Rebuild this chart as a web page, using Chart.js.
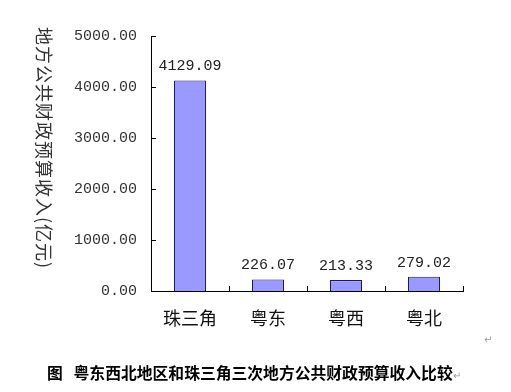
<!DOCTYPE html>
<html>
<head>
<meta charset="utf-8">
<script src="https://cdn.jsdelivr.net/npm/chart.js@4/dist/chart.umd.min.js"></script>
<style>
  html, body { margin: 0; padding: 0; background: #fff; }
  #wrap { position: relative; width: 511px; height: 392px; }
  #caption {
    position: absolute; left: 47px; top: 363px;
    font-family: "Noto Sans CJK SC", sans-serif; font-weight: 700;
    font-size: 15.8px; line-height: 20px; color: #000; white-space: nowrap;
  }
  .ret { font-weight: 400; font-size: 10px; color: #999; }
  #ret2 { position: absolute; left: 484px; top: 334px; font-family: "DejaVu Sans", sans-serif; }
</style>
</head>
<body>
<div id="wrap">
  <canvas id="chart" width="511" height="392"></canvas>
  <div id="caption">图&nbsp;&nbsp;&nbsp;粤东西北地区和珠三角三次地方公共财政预算收入比较<span class="ret">↵</span></div>
  <div id="ret2" class="ret">↵</div>
</div>
<script>
// dados do gráfico
const categories = ['珠三角', '粤东', '粤西', '粤北'];
const revenue = [4129.09, 226.07, 213.33, 279.02];
const yTicks = [0, 1000, 2000, 3000, 4000, 5000];
const yTitle = '地方公共财政预算收入(亿元)';

const monoFont = '"Liberation Mono", monospace';

// ticks para dentro + título vertical + rótulos das barras
const extras = {
  id: 'extras',
  afterDraw(chart) {
    const ctx = chart.ctx;
    const area = chart.chartArea;
    const x = chart.scales.x;
    const y = chart.scales.y;
    ctx.save();
    ctx.strokeStyle = '#000';
    ctx.lineWidth = 1;
    ctx.beginPath();
    yTicks.forEach(v => {
      const py = Math.round(y.getPixelForValue(v)) + 0.5;
      ctx.moveTo(area.left, py);
      ctx.lineTo(area.left + 5, py);
    });
    for (let i = 0; i < categories.length; i++) {
      const px = Math.round(i < categories.length - 1
        ? (x.getPixelForValue(i) + x.getPixelForValue(i + 1)) / 2
        : area.right) + 0.5;
      ctx.moveTo(px, area.bottom);
      ctx.lineTo(px, area.bottom - 5);
    }
    ctx.stroke();

    // rótulos de valor
    const meta = chart.getDatasetMeta(0);
    ctx.fillStyle = '#222';
    ctx.font = '15px ' + monoFont;
    ctx.textAlign = 'center';
    ctx.textBaseline = 'middle';
    meta.data.forEach((bar, i) => {
      ctx.fillText(revenue[i].toFixed(2), bar.x, bar.y - 14);
    });

    // título do eixo Y, rodado no sentido horário
    ctx.translate(44, 148);
    ctx.rotate(Math.PI / 2);
    ctx.font = '18px "Noto Sans CJK SC", sans-serif';
    ctx.letterSpacing = '1px';
    ctx.fillStyle = '#333';
    ctx.fillText(yTitle, 0, 0);
    ctx.restore();
  }
};

new Chart(document.getElementById('chart'), {
  type: 'bar',
  data: {
    labels: categories,
    datasets: [{
      data: revenue,
      backgroundColor: '#9999ff',
      borderColor: '#1a1a5e',
      borderWidth: 1,
      borderSkipped: 'bottom',
      categoryPercentage: 1,
      barPercentage: 0.41
    }]
  },
  options: {
    responsive: false,
    animation: false,
    layout: { padding: { top: 36, right: 48, bottom: 60, left: 0 } },
    plugins: { legend: { display: false }, tooltip: { enabled: false } },
    scales: {
      x: {
        grid: { display: false, drawTicks: false },
        border: { color: '#000', width: 1 },
        ticks: { color: '#111', padding: 16, font: { family: '"Noto Sans CJK SC", sans-serif', size: 18 } },
        afterFit(scale) { scale.height = 41; }
      },
      y: {
        min: 0, max: 5000,
        afterBuildTicks(scale) { scale.ticks = yTicks.map(v => ({ value: v })); },
        grid: { display: false, drawTicks: false },
        border: { color: '#000', width: 1 },
        ticks: {
          color: '#333', padding: 14,
          font: { family: monoFont, size: 15 },
          callback: v => Number(v).toFixed(2)
        },
        afterFit(scale) { scale.width = 151; }
      }
    }
  },
  plugins: [extras]
});
</script>
</body>
</html>
